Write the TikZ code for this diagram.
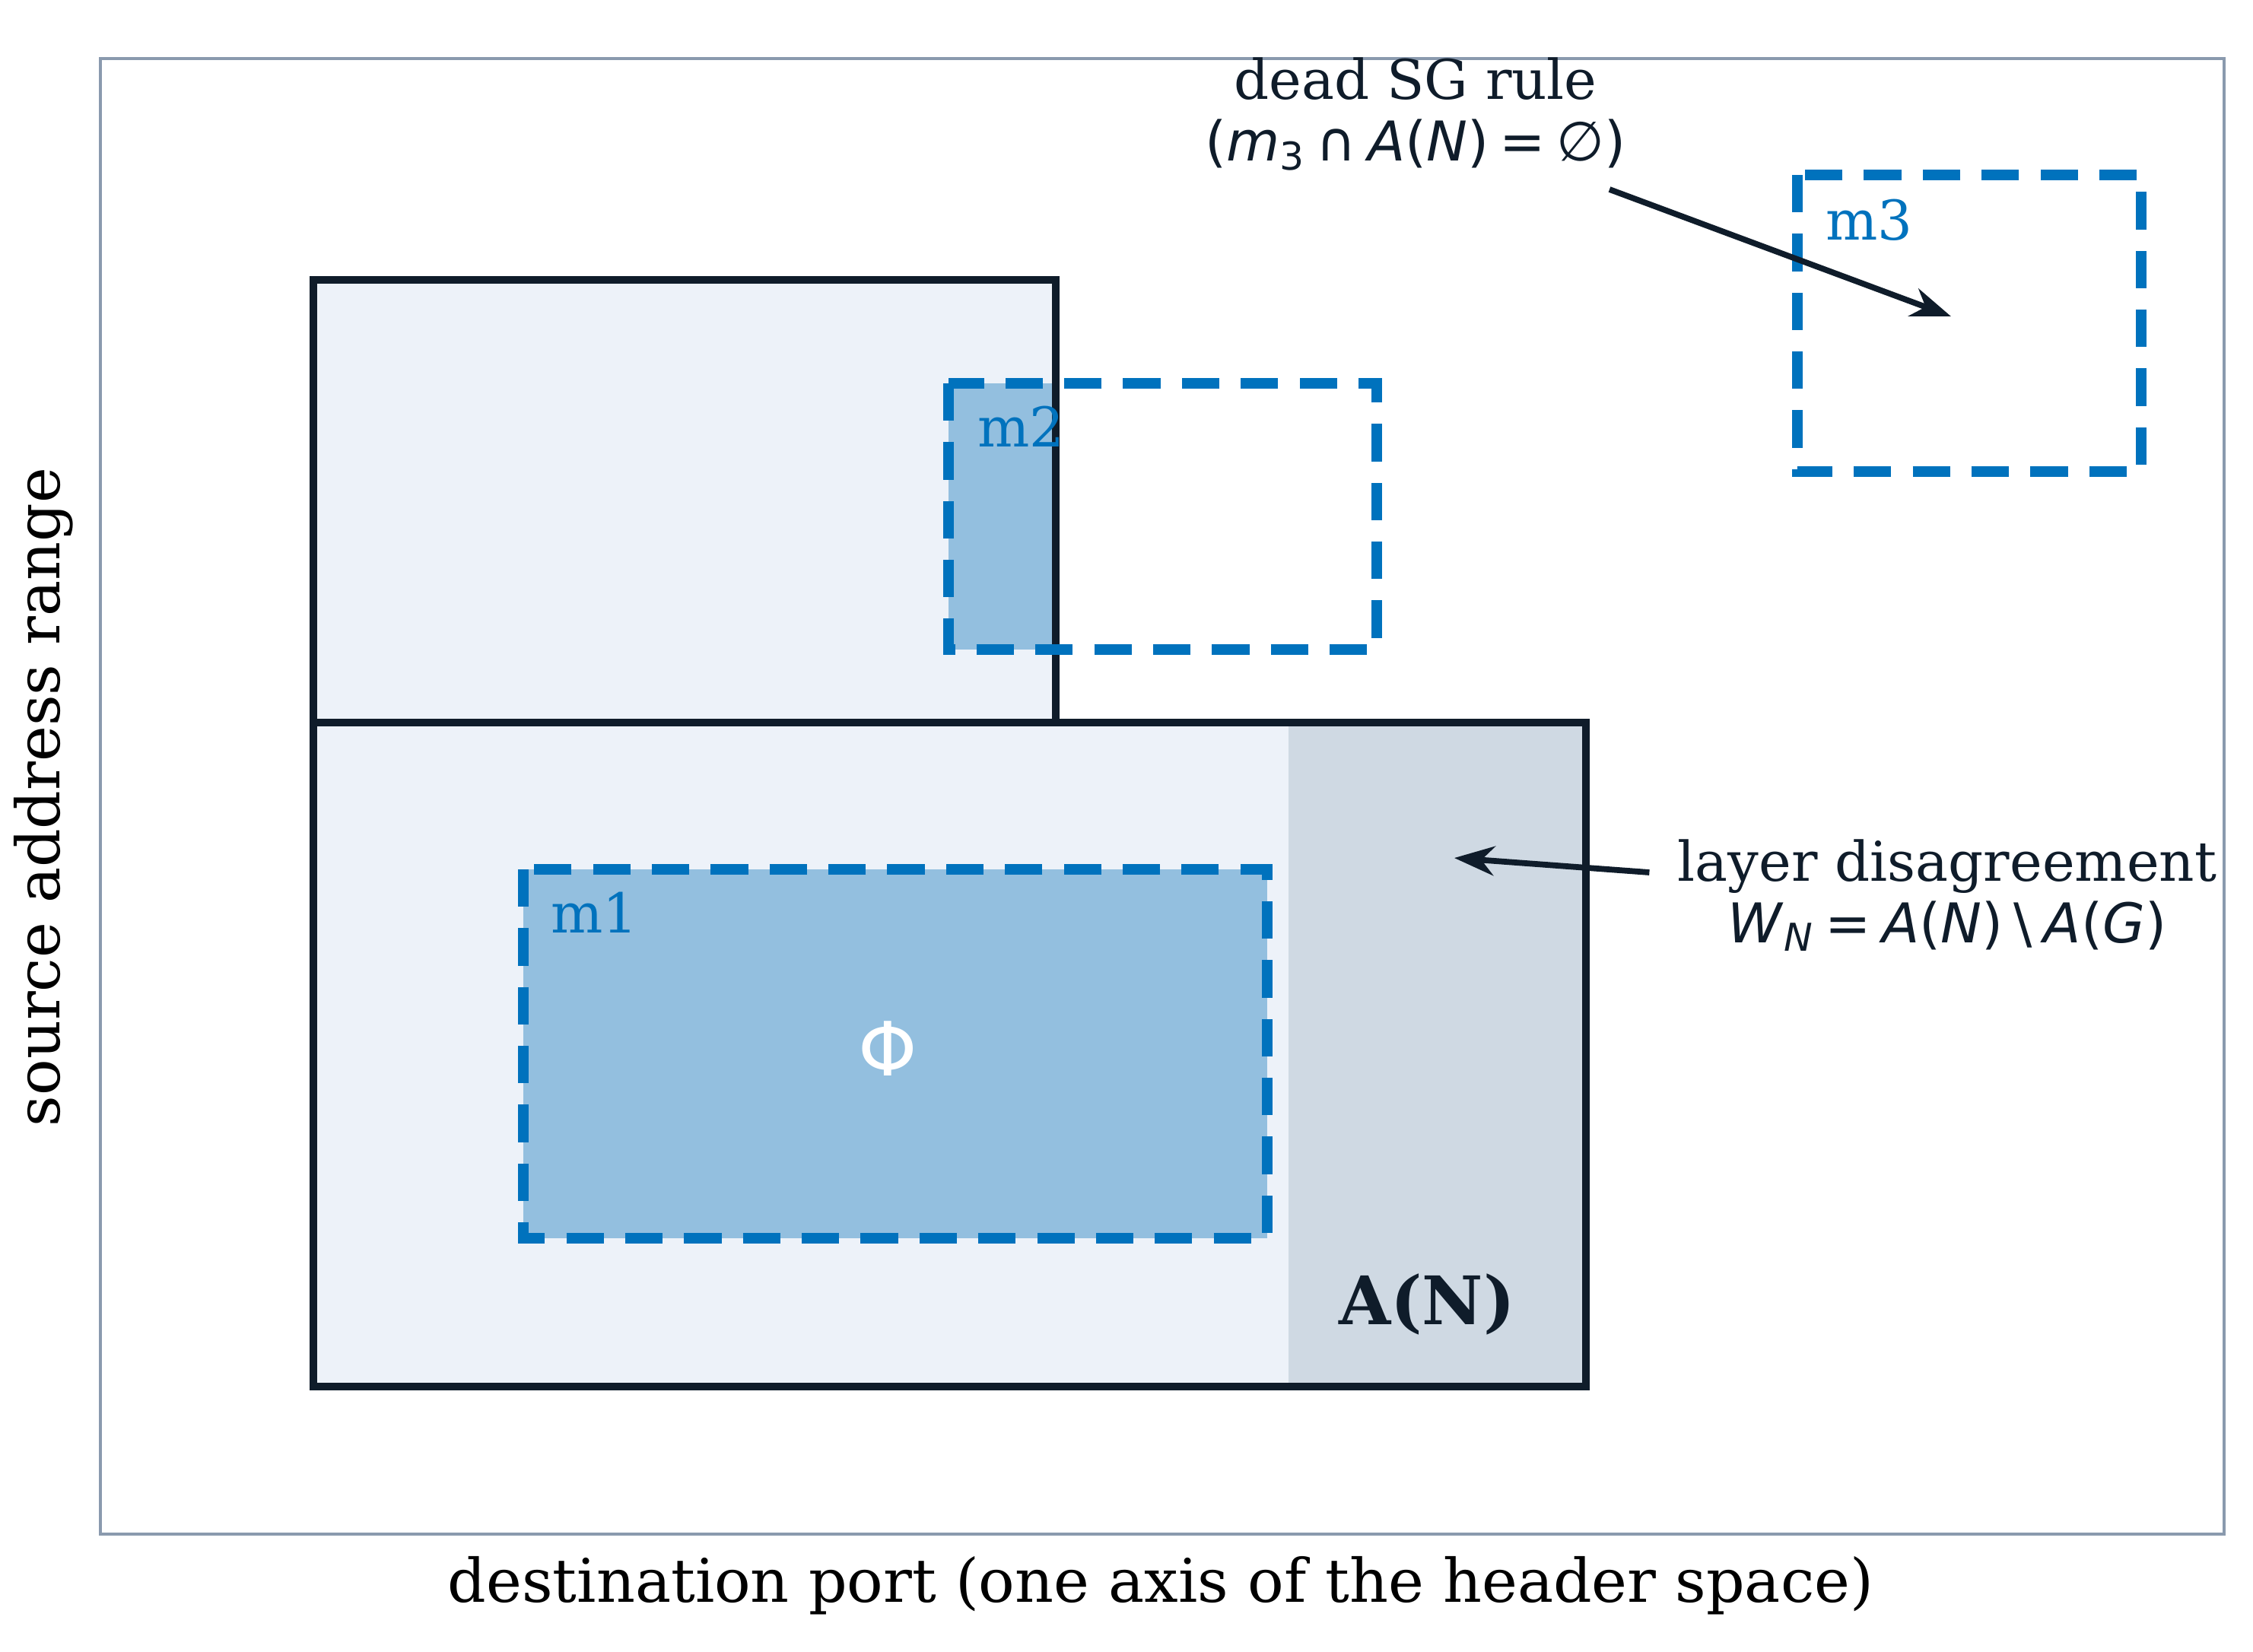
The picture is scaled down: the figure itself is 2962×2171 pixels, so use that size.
\documentclass[tikz,border=0pt]{standalone}
\usepackage{fontspec}
\setmainfont{DejaVu Serif}
\newfontfamily\dvsans{DejaVu Sans}
\usepackage{tikz}
\usetikzlibrary{arrows.meta}
\usetikzlibrary{positioning}

\definecolor{ruleblue}{HTML}{0072BD}
\definecolor{rulefill}{HTML}{93BFDF}
\definecolor{spacefill}{HTML}{EDF2F9}
\definecolor{stripfill}{HTML}{CFD9E3}
\definecolor{navy}{HTML}{0F1C2A}
\definecolor{framegray}{HTML}{8A9AAE}

\newcommand{\opgap}{\hspace{0.2em}}

\begin{document}
\begin{tikzpicture}[x=0.01cm,y=-0.01cm,
        outline/.style={draw=navy,line width=2.6pt},
        rulebox/.style={draw=ruleblue,line width=3.8pt,dash pattern=on 14pt off 8pt},
        rulelabel/.style={text=ruleblue,anchor=west,font=\fontsize{20.5}{24}\selectfont},
        note/.style={text=navy,align=center,font=\fontsize{20.5}{23}\selectfont},
        axislabel/.style={font=\fontsize{22.5}{26}\selectfont},
        pointer/.style={draw=navy,line width=2.2pt,-{Stealth[length=15pt,width=11pt]}}]
                \useasboundingbox (0,0) rectangle (2962,2171);
                \draw[framegray,line width=1.3pt] (132,77) rectangle (2924,2017);

                % header space regions
                \fill[spacefill] (412,950) rectangle (2085,1823);
                \fill[stripfill] (1694,950) rectangle (2085,1823);
                \fill[spacefill] (412,368) rectangle (1388,950);
                \fill[rulefill] (688,1143) rectangle (1666,1628);
                \fill[rulefill] (1247,504) rectangle (1388,854);
                \draw[outline] (412,950) -- (412,368) -- (1388,368) -- (1388,950);
                \draw[outline] (412,950) rectangle (2085,1823);

                % rules
                \draw[rulebox] (688,1143) rectangle (1666,1628);
                \draw[rulebox] (1247,504) rectangle (1810,854);
                \draw[rulebox] (2363,230) rectangle (2815,620);
                \node[rulelabel] (m1) at (712,1200) {m1};
                \node[rulelabel] (m2) at (1273,561) {m2};
                \node[rulelabel] (m3) at (2388,289) {m3};
                \node[text=white,font=\dvsans\fontsize{28}{30}\selectfont] (phi) at (1167,1379) {Φ};
                \node[text=navy,font=\bfseries\fontsize{25}{28}\selectfont] (AN) at (1876,1715) {A(N)};

                % annotations
                \node[note] (dead) at (1861,150) {dead SG rule\\{\dvsans (\textit{m}\textsubscript{3}\opgap∩\opgap\textit{A}(\textit{N})\opgap=\opgap∅)}};
                \node[note] (layer) at (2560,1177) {layer disagreement\\{\dvsans \textit{W}\textsubscript{\textit{N}}\opgap=\opgap\textit{A}(\textit{N})\opgap\textbackslash\opgap\textit{A}(\textit{G})}};
                \coordinate (deadtail) at (2116,249);
                \coordinate (m3tip) at (2565,416);
                \coordinate (striptip) at (1912,1128);
                \draw[pointer] (deadtail) -- (m3tip);
                \draw[pointer] (layer.west) ++(-25,-30) -- (striptip);

                % axes
                \node[axislabel,rotate=90] (ylab) at (57,1048) {source address range};
                \node[axislabel] (xlab) at (1526,2085) {destination port (one axis of the header space)};
            \end{tikzpicture}
\end{document}
